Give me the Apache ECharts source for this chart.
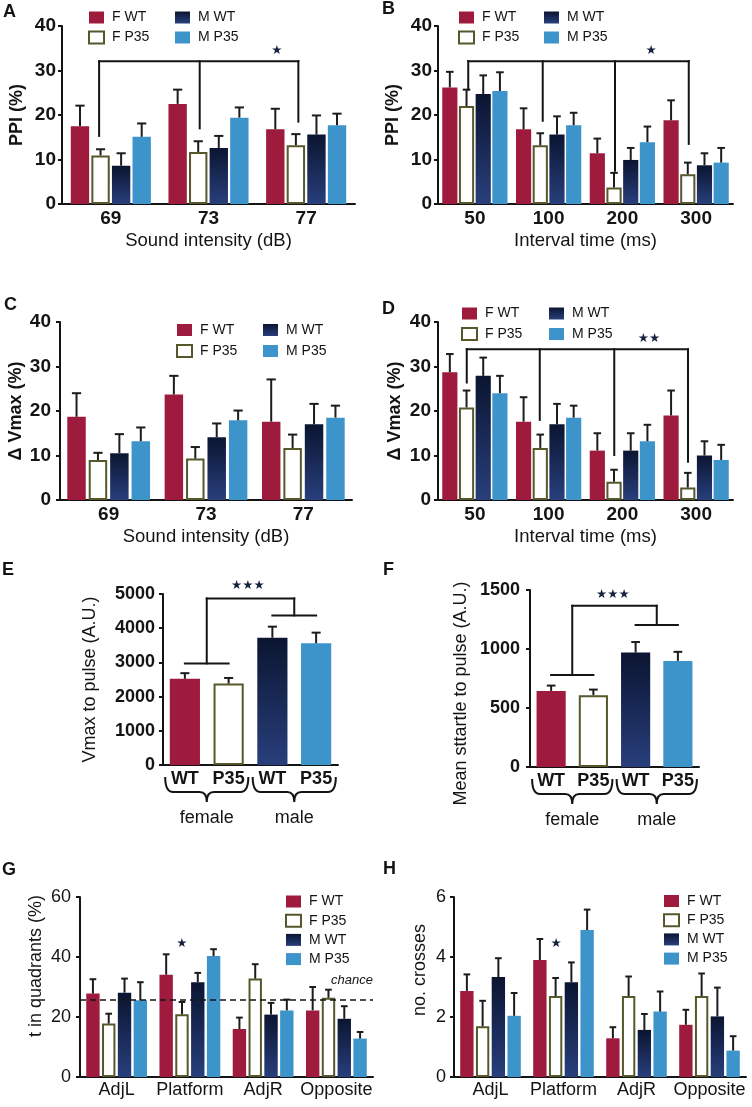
<!DOCTYPE html>
<html><head><meta charset="utf-8">
<script src="https://cdn.jsdelivr.net/npm/echarts/dist/echarts.min.js"></script>
<style>html,body{margin:0;padding:0;background:#fff}#c{width:752px;height:1107px}</style>
</head><body><div id="c"></div>
<script>
// ================= DATA =================
const groupNames = ['F WT', 'F P35', 'M WT', 'M P35'];

// A: PPI (%) vs sound intensity
const A_categories = ['69', '73', '77'];
const A_FWT  = [17.5, 22.5, 16.8]; const A_FWT_sem  = [4.6, 3.2, 4.6];
const A_FP35 = [10.9, 11.7, 13.2]; const A_FP35_sem = [1.4, 2.4, 2.5];
const A_MWT  = [8.6, 12.6, 15.6];  const A_MWT_sem  = [2.8, 2.7, 4.3];
const A_MP35 = [15.1, 19.4, 17.7]; const A_MP35_sem = [3.0, 2.3, 2.6];
const A_bracketX = [-0.12, 0.91, 1.92];
const A_bracketLow = [15.3, 17.0, 18.5];
const A_bracketTop = 32.1;
const A_star = [1.70, 34.5, '*'];

// B: PPI (%) vs interval time
const B_categories = ['50', '100', '200', '300'];
const B_FWT  = [26.2, 16.8, 11.4, 18.8]; const B_FWT_sem  = [3.5, 4.7, 3.3, 4.5];
const B_FP35 = [22.0, 13.2, 3.7, 6.7];   const B_FP35_sem = [3.7, 2.7, 3.3, 2.6];
const B_MWT  = [24.7, 15.6, 9.9, 8.7];   const B_MWT_sem  = [4.2, 4.1, 2.7, 2.7];
const B_MP35 = [25.4, 17.7, 13.9, 9.3];  const B_MP35_sem = [4.2, 2.8, 3.5, 3.3];
const B_bracketX = [-0.09, 0.92, 1.90, 2.90];
const B_bracketLow = [25.7, 18.7, 7.5, 13.5];
const B_bracketTop = 32.1;
const B_star = [2.39, 34.5, '*'];

// C: Δ Vmax (%) vs sound intensity
const C_categories = ['69', '73', '77'];
const C_FWT  = [18.7, 23.7, 17.6]; const C_FWT_sem  = [5.3, 4.2, 9.5];
const C_FP35 = [9.0, 9.3, 11.7];   const C_FP35_sem = [1.6, 2.6, 3.0];
const C_MWT  = [10.5, 14.1, 17.0]; const C_MWT_sem  = [4.3, 3.1, 4.6];
const C_MP35 = [13.2, 17.9, 18.5]; const C_MP35_sem = [3.1, 2.2, 2.7];

// D: Δ Vmax (%) vs interval time
const D_categories = ['50', '100', '200', '300'];
const D_FWT  = [28.7, 17.6, 11.1, 19.0]; const D_FWT_sem  = [4.1, 5.5, 3.9, 5.6];
const D_FP35 = [20.8, 11.7, 4.1, 2.8];   const D_FP35_sem = [3.8, 3.0, 2.7, 3.3];
const D_MWT  = [27.9, 17.0, 11.1, 10.0]; const D_MWT_sem  = [4.1, 4.6, 3.9, 3.2];
const D_MP35 = [24.0, 18.5, 13.2, 9.0];  const D_MP35_sem = [3.9, 2.7, 3.7, 3.4];
const D_bracketX = [-0.11, 0.88, 1.89, 2.89];
const D_bracketLow = [26.4, 18.0, 10.1, 8.6];
const D_bracketTop = 33.9;
const D_star = [2.36, 36.2, '**'];

// E: Vmax to pulse (A.U.)
const E_categories = ['WT', 'P35', 'WT', 'P35'];
const E_values = [2520, 2380, 3720, 3560];
const E_sem    = [165, 165, 325, 310];
const E_groups = ['female', 'male'];
const E_bracketTop = 4870;
const E_bracketLow = [2970, 4375];
const E_star = [1.44, 5245, '***'];

// F: Mean startle to pulse (A.U.)
const F_categories = ['WT', 'P35', 'WT', 'P35'];
const F_values = [645, 609, 970, 899];
const F_sem    = [45, 47, 89, 77];
const F_groups = ['female', 'male'];
const F_bracketTop = 1366;
const F_bracketLow = [780, 1203];
const F_star = [1.46, 1458, '***'];

// G: time in quadrants (%)
const G_categories = ['AdjL', 'Platform', 'AdjR', 'Opposite'];
const G_FWT  = [27.8, 34.1, 16.0, 22.2]; const G_FWT_sem  = [4.8, 6.8, 3.8, 7.8];
const G_FP35 = [17.8, 20.9, 32.8, 26.4]; const G_FP35_sem = [3.3, 4.1, 4.8, 2.7];
const G_MWT  = [28.1, 31.6, 20.8, 19.4]; const G_MWT_sem  = [4.7, 3.1, 3.9, 4.2];
const G_MP35 = [25.6, 40.3, 22.2, 12.8]; const G_MP35_sem = [6.0, 2.3, 3.6, 2.2];
const G_chance = 25.8;
const G_star = [0.89, 44.4, '*'];

// H: no. crosses
const H_categories = ['AdjL', 'Platform', 'AdjR', 'Opposite'];
const H_FWT  = [2.87, 3.9, 1.29, 1.74]; const H_FWT_sem  = [0.55, 0.7, 0.37, 0.5];
const H_FP35 = [1.69, 2.7, 2.7, 2.7];   const H_FP35_sem = [0.85, 0.6, 0.65, 0.75];
const H_MWT  = [3.33, 3.16, 1.57, 2.02]; const H_MWT_sem  = [0.63, 0.66, 0.53, 0.96];
const H_MP35 = [2.04, 4.9, 2.18, 0.88]; const H_MP35_sem = [0.76, 0.68, 0.67, 0.48];
const H_star = [0.90, 4.45, '*'];

// ================= STYLE =================
const FONT = '"Liberation Sans", Arial, Helvetica, sans-serif';
const INK = '#141414';
const colFWT = '#9e1b3e';
const colMP35 = '#3d94cb';
const gradMWT = {type:'linear', x:0, y:0, x2:0, y2:1, colorStops:[{offset:0,color:'#0b1531'},{offset:1,color:'#283f7c'}]};
const barStyles = [
  {color: colFWT},
  {color: '#ffffff', borderColor: '#57572c', borderWidth: 2},
  {color: gradMWT},
  {color: colMP35}
];
const legendStyles = {
  'F WT': {color: colFWT},
  'F P35': {color: '#ffffff', borderColor: '#57572c', borderWidth: 2},
  'M WT': {color: gradMWT},
  'M P35': {color: colMP35}
};

const grids = [], xAxes = [], yAxes = [], series = [], legends = [], titles = [];

function yAxisCfg(gi, o) {
  return {
    gridIndex: gi, type: 'value', min: 0, max: o.max, interval: o.interval,
    name: o.name, nameLocation: 'middle', nameGap: o.nameGap, nameRotate: 90, nameMoveOverlap: false,
    nameTextStyle: {fontSize: 18, fontWeight: o.nameBold ? 'bold' : 'normal', color: INK, fontFamily: FONT, padding: o.namePad || 0},
    axisLine: {show: true, onZero: false, lineStyle: {color: INK, width: 2}},
    axisTick: {show: true, length: 4, lineStyle: {color: INK, width: 2}},
    axisLabel: {fontSize: o.labelSize, fontWeight: o.labelBold ? 'bold' : 'normal', color: INK, margin: o.labelMargin, fontFamily: FONT,
                formatter: v => String(v)},
    splitLine: {show: false}
  };
}
function xAxisCfg(gi, cats, o) {
  return {
    gridIndex: gi, type: 'category', data: cats,
    name: o.name || '', nameLocation: 'middle', nameGap: o.nameGap || 0, nameMoveOverlap: false,
    nameTextStyle: {fontSize: 18.5, color: INK, fontFamily: FONT},
    axisLine: {show: true, onZero: false, lineStyle: {color: INK, width: 2}},
    axisTick: {show: false},
    axisLabel: {fontSize: o.labelSize, fontWeight: o.labelBold ? 'bold' : 'normal', color: INK, margin: o.labelMargin, fontFamily: FONT, interval: 0},
    splitLine: {show: false}
  };
}
function hiddenX(gi, n) {
  return {gridIndex: gi, type: 'value', min: -0.5, max: n - 0.5, show: false,
          axisLine: {show: false, onZero: false}, axisTick: {show: false}, axisLabel: {show: false}, splitLine: {show: false}};
}

function segRender(params, api) {
  const p1 = api.coord([api.value(0), api.value(1)]);
  const p2 = api.coord([api.value(2), api.value(3)]);
  return {type: 'line', shape: {x1: p1[0], y1: p1[1], x2: p2[0], y2: p2[1]},
          style: {stroke: INK, lineWidth: 2, lineCap: 'square'}};
}
function starSeries(xi, yi, star) {
  return {
    type: 'custom', xAxisIndex: xi, yAxisIndex: yi, clip: false, silent: true, z: 6,
    data: [[star[0], star[1]]], encode: {x: 0, y: 1},
    renderItem: (params, api) => {
      const p = api.coord([api.value(0), api.value(1)]);
      return {type: 'text', style: {text: star[2].replace(/\*/g, '★'), x: p[0], y: p[1], align: 'center', verticalAlign: 'middle',
              fontSize: 12.5, fill: '#16213f', fontFamily: '"DejaVu Sans", sans-serif'}};
    }
  };
}
function segSeries(xi, yi, segs) {
  return {type: 'custom', xAxisIndex: xi, yAxisIndex: yi, clip: false, silent: true, z: 5,
          data: segs, encode: {x: [0, 2], y: [1, 3]}, renderItem: segRender};
}
function errSeries(xi, yi, rows, capHalfFrac) {
  return {
    type: 'custom', xAxisIndex: xi, yAxisIndex: yi, clip: false, silent: true, z: 4,
    data: rows, encode: {x: 0, y: 1},
    renderItem: (params, api) => {
      const x = api.value(0), m = api.value(1), s = api.value(2);
      const p0 = api.coord([x, m]), p1 = api.coord([x, m + s]);
      const half = api.size([1, 0])[0] * capHalfFrac;
      return {type: 'group', children: [
        {type: 'line', shape: {x1: p0[0], y1: p0[1], x2: p0[0], y2: p1[1]}, style: {stroke: '#1c1c1c', lineWidth: 2}},
        {type: 'line', shape: {x1: p0[0] - half, y1: p1[1], x2: p0[0] + half, y2: p1[1]}, style: {stroke: '#1c1c1c', lineWidth: 2}}
      ]};
    }
  };
}
function legendCol(names, left, top, gap) {
  return {orient: 'vertical', left: left, top: top, itemWidth: 15, itemHeight: 12, itemGap: gap, padding: 0,
          selectedMode: false, icon: 'rect',
          data: names.map(n => ({name: n, itemStyle: legendStyles[n]})),
          textStyle: {fontSize: 14, color: INK, fontFamily: FONT, padding: [0, 0, 0, 3]}};
}

function groupedPanel(o) {
  const gi = grids.length;
  grids.push(Object.assign({containLabel: false, outerBoundsMode: 'none'}, o.grid));
  const xc = xAxes.length;
  xAxes.push(xAxisCfg(gi, o.cats, o.x));
  const xv = xAxes.length;
  xAxes.push(hiddenX(gi, o.cats.length));
  const yi = yAxes.length;
  yAxes.push(yAxisCfg(gi, o.y));
  const n = 4, cg = o.catGap, bg = o.barGap;
  const usable = 1 - cg;
  const bw = usable / (n + (n - 1) * bg);
  const offs = [0, 1, 2, 3].map(k => -usable / 2 + k * bw * (1 + bg) + bw / 2);
  const errRows = [];
  groupNames.forEach((nm, k) => {
    const s = {type: 'bar', name: nm, xAxisIndex: xc, yAxisIndex: yi, data: o.vals[k], itemStyle: barStyles[k],
               barCategoryGap: (cg * 100) + '%', barGap: (bg * 100) + '%', z: 2, silent: true};
    if (k === 0 && o.chance != null) {
      s.markLine = {silent: true, symbol: 'none', data: [{yAxis: o.chance}],
        lineStyle: {type: [6, 4], color: INK, width: 1.5},
        label: {show: true, position: 'insideEndTop', formatter: 'chance', fontStyle: 'italic', fontSize: 13,
                color: INK, distance: [0, 13], fontFamily: FONT}};
    }
    series.push(s);
    o.vals[k].forEach((v, i) => errRows.push([i + offs[k], v, o.sems[k][i]]));
  });
  series.push(errSeries(xv, yi, errRows, bw * 0.25));
  if (o.bracket) {
    const b = o.bracket, segs = [[b.x[0], b.top, b.x[b.x.length - 1], b.top]];
    b.x.forEach((x, i) => segs.push([x, b.low[i], x, b.top]));
    series.push(segSeries(xv, yi, segs));
  }
  if (o.star) series.push(starSeries(xv, yi, o.star));
}

function pairPanel(o) {
  const gi = grids.length;
  grids.push(Object.assign({containLabel: false, outerBoundsMode: 'none'}, o.grid));
  const xc = xAxes.length;
  xAxes.push(xAxisCfg(gi, o.cats, o.x));
  const xv = xAxes.length;
  xAxes.push(hiddenX(gi, o.cats.length));
  const yi = yAxes.length;
  yAxes.push(yAxisCfg(gi, o.y));
  series.push({type: 'bar', name: o.id, xAxisIndex: xc, yAxisIndex: yi, barCategoryGap: '31%', z: 2, silent: true,
               data: o.vals.map((v, i) => ({value: v, itemStyle: barStyles[i]}))});
  series.push(errSeries(xv, yi, o.vals.map((v, i) => [i, v, o.sems[i]]), 0.69 * 0.15));
  const mids = [0.5, 2.5];
  const segs = [[mids[0], o.top, mids[1], o.top],
                [mids[0], o.low[0], mids[0], o.top], [0, o.low[0], 1, o.low[0]],
                [mids[1], o.low[1], mids[1], o.top], [2, o.low[1], 3, o.low[1]]];
  series.push(segSeries(xv, yi, segs));
  series.push(starSeries(xv, yi, o.star));
  series.push({
    type: 'custom', xAxisIndex: xv, yAxisIndex: yi, clip: false, silent: true, z: 5,
    data: o.groups.map((g, i) => [i * 2 + 0.5, 0]), encode: {x: 0, y: 1},
    renderItem: (params, api) => {
      const c = api.value(0);
      const pL = api.coord([c - 0.5 - 0.45, 0]), pR = api.coord([c + 0.5 + 0.45, 0]);
      const x1 = pL[0], x2 = pR[0], xm = (x1 + x2) / 2;
      const y0 = pL[1] + 12, ym = pL[1] + 27, yt = pL[1] + 37;
      const d = `M${x1},${y0} Q${x1},${ym} ${x1 + 8},${ym} L${xm - 7},${ym} Q${xm},${ym} ${xm},${yt} ` +
                `M${xm},${yt} Q${xm},${ym} ${xm + 7},${ym} L${x2 - 8},${ym} Q${x2},${ym} ${x2},${y0}`;
      return {type: 'group', children: [
        {type: 'path', shape: {pathData: d}, style: {fill: 'none', stroke: INK, lineWidth: 2}},
        {type: 'text', style: {text: o.groups[params.dataIndex], x: xm, y: yt + 7, align: 'center', verticalAlign: 'top',
                               fontSize: 18, fill: INK, fontFamily: FONT}}
      ]};
    }
  });
}

// ---------- panels ----------
const yStd = {max: 40, interval: 10, labelSize: 19, labelBold: true, nameBold: true};
groupedPanel({
  grid: {left: 62, top: 26, width: 293, height: 178},
  cats: A_categories, catGap: 0.18, barGap: 0.12,
  vals: [A_FWT, A_FP35, A_MWT, A_MP35], sems: [A_FWT_sem, A_FP35_sem, A_MWT_sem, A_MP35_sem],
  x: {name: 'Sound intensity (dB)', nameGap: 27, labelSize: 19, labelBold: true, labelMargin: 5},
  y: Object.assign({}, yStd, {name: 'PPI (%)', nameGap: 36, labelMargin: 6}),
  bracket: {x: A_bracketX, low: A_bracketLow, top: A_bracketTop}, star: A_star
});
groupedPanel({
  grid: {left: 438, top: 26, width: 295, height: 178},
  cats: B_categories, catGap: 0.115, barGap: 0.1,
  vals: [B_FWT, B_FP35, B_MWT, B_MP35], sems: [B_FWT_sem, B_FP35_sem, B_MWT_sem, B_MP35_sem],
  x: {name: 'Interval time (ms)', nameGap: 27, labelSize: 19, labelBold: true, labelMargin: 5},
  y: Object.assign({}, yStd, {name: 'PPI (%)', nameGap: 36, labelMargin: 6}),
  bracket: {x: B_bracketX, low: B_bracketLow, top: B_bracketTop}, star: B_star
});
groupedPanel({
  grid: {left: 60, top: 322, width: 292, height: 178},
  cats: C_categories, catGap: 0.15, barGap: 0.16,
  vals: [C_FWT, C_FP35, C_MWT, C_MP35], sems: [C_FWT_sem, C_FP35_sem, C_MWT_sem, C_MP35_sem],
  x: {name: 'Sound intensity (dB)', nameGap: 27, labelSize: 19, labelBold: true, labelMargin: 5},
  y: Object.assign({}, yStd, {name: 'Δ Vmax (%)', nameGap: 35, labelMargin: 9})
});
groupedPanel({
  grid: {left: 438, top: 322, width: 295, height: 178},
  cats: D_categories, catGap: 0.115, barGap: 0.1,
  vals: [D_FWT, D_FP35, D_MWT, D_MP35], sems: [D_FWT_sem, D_FP35_sem, D_MWT_sem, D_MP35_sem],
  x: {name: 'Interval time (ms)', nameGap: 27, labelSize: 19, labelBold: true, labelMargin: 5},
  y: Object.assign({}, yStd, {name: 'Δ Vmax (%)', nameGap: 34, labelMargin: 7}),
  bracket: {x: D_bracketX, low: D_bracketLow, top: D_bracketTop}, star: D_star
});
pairPanel({
  id: 'E', grid: {left: 163, top: 594, width: 175, height: 171},
  cats: E_categories, vals: E_values, sems: E_sem, groups: E_groups,
  top: E_bracketTop, low: E_bracketLow, star: E_star,
  x: {labelSize: 18, labelBold: true, labelMargin: 5},
  y: {max: 5000, interval: 1000, labelSize: 18, labelBold: true, labelMargin: 8, name: 'Vmax to pulse (A.U.)', nameGap: 64}
});
pairPanel({
  id: 'F', grid: {left: 530, top: 590, width: 169, height: 177},
  cats: F_categories, vals: F_values, sems: F_sem, groups: F_groups,
  top: F_bracketTop, low: F_bracketLow, star: F_star,
  x: {labelSize: 18, labelBold: true, labelMargin: 5},
  y: {max: 1500, interval: 500, labelSize: 18, labelBold: true, labelMargin: 10, name: 'Mean sttartle to pulse (A.U.)', nameGap: 60, namePad: [0, 30, 0, 0]}
});
groupedPanel({
  grid: {left: 80, top: 897, width: 293, height: 180},
  cats: G_categories, catGap: 0.17, barGap: 0.18,
  vals: [G_FWT, G_FP35, G_MWT, G_MP35], sems: [G_FWT_sem, G_FP35_sem, G_MWT_sem, G_MP35_sem],
  x: {labelSize: 18, labelBold: false, labelMargin: 4},
  y: {max: 60, interval: 20, labelSize: 18, labelBold: false, labelMargin: 9, name: 't in quadrants (%)', nameGap: 35, namePad: [0, 0, 0, 42]},
  chance: G_chance, star: G_star
});
groupedPanel({
  grid: {left: 454, top: 897, width: 292, height: 180},
  cats: H_categories, catGap: 0.17, barGap: 0.18,
  vals: [H_FWT, H_FP35, H_MWT, H_MP35], sems: [H_FWT_sem, H_FP35_sem, H_MWT_sem, H_MP35_sem],
  x: {labelSize: 18, labelBold: false, labelMargin: 4},
  y: {max: 6, interval: 2, labelSize: 18, labelBold: false, labelMargin: 8, name: 'no. crosses', nameGap: 25, namePad: [0, 0, 0, 34]},
  star: H_star
});

// legends
legends.push(legendCol(['F WT', 'F P35'], 88, 10.5, 6), legendCol(['M WT', 'M P35'], 175, 10.5, 6));
legends.push(legendCol(['F WT', 'F P35'], 458, 10.5, 6), legendCol(['M WT', 'M P35'], 544, 10.5, 6));
legends.push(legendCol(['F WT', 'F P35'], 176, 323, 7), legendCol(['M WT', 'M P35'], 263, 323, 7));
legends.push(legendCol(['F WT', 'F P35'], 461, 306.5, 6.5), legendCol(['M WT', 'M P35'], 549, 306.5, 6.5));
legends.push(legendCol(groupNames, 285, 894.5, 5.2));
legends.push(legendCol(groupNames, 663, 894, 5.2));

// panel letters
[['A', 3, 3], ['B', 382, 0], ['C', 4, 296], ['D', 382, 300], ['E', 2, 561], ['F', 383, 561], ['G', 2, 861], ['H', 383, 860]]
  .forEach(t => titles.push({text: t[0], left: t[1], top: t[2], padding: 0,
    textStyle: {fontSize: 18, fontWeight: 'bold', color: INK, fontFamily: FONT}}));

const chart = echarts.init(document.getElementById('c'), null, {renderer: 'canvas'});
chart.setOption({
  animation: false,
  backgroundColor: '#ffffff',
  textStyle: {fontFamily: FONT},
  title: titles,
  legend: legends,
  grid: grids,
  xAxis: xAxes,
  yAxis: yAxes,
  tooltip: {show: false},
  series: series
});
</script>
</body></html>
